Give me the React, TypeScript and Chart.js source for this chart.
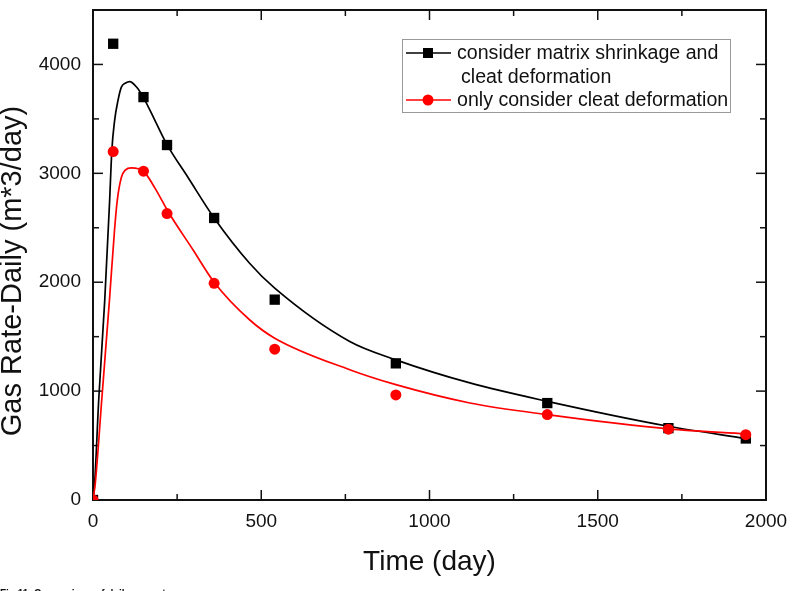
import React, { useEffect, useRef } from "react";
import { Chart, registerables } from "chart.js";

Chart.register(...registerables);

const FONT = "'Liberation Sans', Arial, Helvetica, sans-serif";

// Measured data points (markers)
const markerDays = [0, 60, 150, 220, 360, 540, 900, 1350, 1710, 1940];
const blackMarkerRates = [0, 4190, 3700, 3260, 2590, 1840, 1255, 890, 660, 565];
const redMarkerRates = [0, 3200, 3020, 2630, 1990, 1385, 965, 785, 650, 600];

// Fitted curves
const blackCurveDays = [0, 5, 17, 35, 49, 56, 64, 74, 84, 97, 109, 130, 150, 185, 220, 282, 360, 466, 540, 763, 900, 1120, 1350, 1710, 1940];
const blackCurveRates = [0, 160, 920, 1840, 2720, 3210, 3480, 3666, 3790, 3830, 3843, 3790, 3695, 3480, 3264, 2964, 2590, 2172, 1945, 1455, 1287, 1075, 906, 677, 564];
const redCurveDays = [0, 7, 26, 49, 64, 72, 84, 96, 114, 150, 185, 223, 298, 360, 466, 540, 763, 900, 1120, 1350, 1710, 1940];
const redCurveRates = [0, 160, 920, 1840, 2480, 2750, 2960, 3030, 3050, 3019, 2860, 2650, 2294, 2000, 1653, 1486, 1196, 1059, 891, 784, 653, 607];

// Axes
const xTicks = [0, 500, 1000, 1500, 2000];
const yTicks = [0, 1000, 2000, 3000, 4000];
const xMinorStep = 250;
const yMinorStep = 500;
const xMax = 2000;
const yMax = 4500;

const seriesNames = ["consider matrix shrinkage and", "cleat deformation", "only consider cleat deformation"];
const xTitle = "Time (day)";
const yTitle = "Gas Rate-Daily (m*3/day)";
const caption = "Fig.11. Comparison of daily gas rate";

const BLACK = "#000000";
const RED = "#ff0000";

const toPts = (xs: number[], ys: number[]) => xs.map((x, i) => ({ x, y: ys[i] }));

const framePlugin = {
  id: "frame",
  beforeDatasetsDraw(chart: any) {
    const { ctx, chartArea: a, scales } = chart;
    const xs = scales.x;
    const ys = scales.y;
    ctx.save();
    ctx.strokeStyle = "#111";
    ctx.lineWidth = 1.5;
    const seg = (x1: number, y1: number, x2: number, y2: number) => {
      ctx.beginPath();
      ctx.moveTo(x1, y1);
      ctx.lineTo(x2, y2);
      ctx.stroke();
    };
    for (let v = 0; v <= xMax; v += xMinorStep) {
      const px = xs.getPixelForValue(v);
      const len = xTicks.includes(v) ? 10 : 6;
      seg(px, a.bottom, px, a.bottom - len);
      seg(px, a.top, px, a.top + len);
    }
    for (let v = 0; v <= yMax; v += yMinorStep) {
      const py = ys.getPixelForValue(v);
      const len = yTicks.includes(v) ? 10 : 6;
      seg(a.left, py, a.left + len, py);
      seg(a.right, py, a.right - len, py);
    }
    ctx.lineWidth = 2;
    ctx.strokeRect(a.left, a.top, a.right - a.left, a.bottom - a.top);
    ctx.restore();
  },
  afterDraw(chart: any) {
    const { ctx, chartArea: a } = chart;
    ctx.save();
    // Axis titles
    ctx.fillStyle = "#111";
    ctx.font = `28px ${FONT}`;
    ctx.textAlign = "center";
    ctx.textBaseline = "alphabetic";
    ctx.fillText(xTitle, (a.left + a.right) / 2, 570);
    ctx.save();
    ctx.font = `29px ${FONT}`;
    ctx.translate(21, 271);
    ctx.rotate(-Math.PI / 2);
    ctx.fillText(yTitle, 0, 0);
    ctx.restore();

    // Legend
    ctx.strokeStyle = "#999";
    ctx.lineWidth = 1;
    ctx.strokeRect(402.5, 39.5, 328, 73);
    ctx.font = `19.6px ${FONT}`;
    ctx.textAlign = "left";
    ctx.textBaseline = "middle";
    const rows = [
      { y: 53, color: BLACK, marker: "rect", text: seriesNames[0], tx: 457 },
      { y: 77, color: null, marker: null, text: seriesNames[1], tx: 461 },
      { y: 100, color: RED, marker: "circle", text: seriesNames[2], tx: 457 },
    ];
    for (const r of rows) {
      if (r.color) {
        ctx.strokeStyle = r.color;
        ctx.fillStyle = r.color;
        ctx.lineWidth = 1.5;
        ctx.beginPath();
        ctx.moveTo(406, r.y);
        ctx.lineTo(451, r.y);
        ctx.stroke();
        if (r.marker === "rect") {
          ctx.fillRect(428 - 5, r.y - 5, 10, 10);
        } else {
          ctx.beginPath();
          ctx.arc(428, r.y, 5.5, 0, Math.PI * 2);
          ctx.fill();
        }
      }
      ctx.fillStyle = "#111";
      ctx.fillText(r.text, r.tx, r.y + 1);
    }
    ctx.restore();
  },
};

const zeroPad = (s: any) => {
  s.paddingTop = 0;
  s.paddingBottom = 0;
  s.paddingLeft = 0;
  s.paddingRight = 0;
};

export default function App() {
  const ref = useRef<HTMLCanvasElement | null>(null);

  useEffect(() => {
    if (!ref.current) return;
    const chart = new Chart(ref.current, {
      type: "line",
      data: {
        datasets: [
          {
            label: "red markers",
            data: toPts(markerDays, redMarkerRates),
            showLine: false,
            pointStyle: "circle",
            pointRadius: 5.5,
            pointBackgroundColor: RED,
            pointBorderColor: RED,
            pointBorderWidth: 0,
            borderColor: RED,
            order: 0,
          },
          {
            label: "red curve",
            data: toPts(redCurveDays, redCurveRates),
            borderColor: RED,
            borderWidth: 1.7,
            pointRadius: 0,
            cubicInterpolationMode: "monotone",
            order: 1,
          },
          {
            label: "black markers",
            data: toPts(markerDays, blackMarkerRates),
            showLine: false,
            pointStyle: "rect",
            pointRadius: 7.3,
            pointBackgroundColor: BLACK,
            pointBorderColor: BLACK,
            pointBorderWidth: 0,
            borderColor: BLACK,
            order: 2,
          },
          {
            label: "black curve",
            data: toPts(blackCurveDays, blackCurveRates),
            borderColor: BLACK,
            borderWidth: 1.7,
            pointRadius: 0,
            cubicInterpolationMode: "monotone",
            order: 3,
          },
        ],
      },
      options: {
        responsive: false,
        animation: false,
        devicePixelRatio: 1,
        layout: { padding: { left: 0, right: 26, top: 10, bottom: 0 } },
        plugins: {
          legend: { display: false },
          tooltip: { enabled: false },
        },
        scales: {
          x: {
            type: "linear",
            min: 0,
            max: xMax,
            grid: { display: false, drawTicks: false },
            border: { display: false },
            afterBuildTicks: (s: any) => {
              s.ticks = xTicks.map((v) => ({ value: v }));
            },
            afterFit: (s: any) => {
              s.height = 91;
              zeroPad(s);
            },
            ticks: {
              color: "#111",
              font: { family: FONT, size: 19 },
              padding: 10,
              maxRotation: 0,
              callback: (v: any) => String(v),
            },
          },
          y: {
            type: "linear",
            min: 0,
            max: yMax,
            grid: { display: false, drawTicks: false },
            border: { display: false },
            afterBuildTicks: (s: any) => {
              s.ticks = yTicks.map((v) => ({ value: v }));
            },
            afterFit: (s: any) => {
              s.width = 93;
              zeroPad(s);
            },
            ticks: {
              color: "#111",
              font: { family: FONT, size: 19 },
              padding: 12,
              callback: (v: any) => String(v),
            },
          },
        },
      },
      plugins: [framePlugin],
    } as any);
    return () => chart.destroy();
  }, []);

  return (
    <div style={{ position: "fixed", left: 0, top: 0, width: 792, height: 591, background: "#fff", overflow: "hidden" }}>
      <canvas ref={ref} width={792} height={591} style={{ width: 792, height: 591, display: "block" }} />
      <div
        style={{
          position: "absolute",
          left: 0,
          top: 588,
          fontFamily: FONT,
          fontSize: 10,
          fontWeight: "bold",
          color: "#111",
          whiteSpace: "nowrap",
        }}
      >
        {caption}
      </div>
    </div>
  );
}
